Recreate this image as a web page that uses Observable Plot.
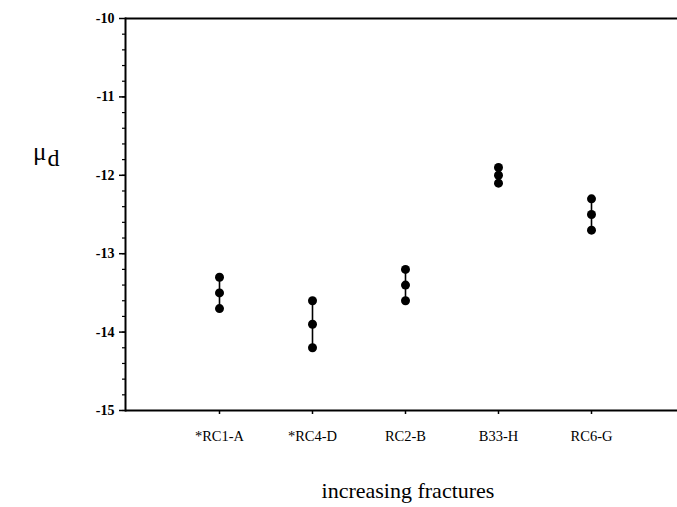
<!DOCTYPE html>
<html>
<head>
<meta charset="utf-8">
<script src="https://cdn.jsdelivr.net/npm/d3@7"></script>
<script src="https://cdn.jsdelivr.net/npm/@observablehq/plot@0.6"></script>
<style>
  body { margin: 0; background: #fff; }
  #chart { width: 677px; height: 507px; }
</style>
</head>
<body>
<div id="chart"></div>
<script>
// Samples, ordered by increasing fractures
const samples = ["*RC1-A", "*RC4-D", "RC2-B", "B33-H", "RC6-G"];
// Three readings per sample: low, middle, high
const lowValues = [-13.7, -14.2, -13.6, -12.1, -12.7];
const midValues = [-13.5, -13.9, -13.4, -12.0, -12.5];
const highValues = [-13.3, -13.6, -13.2, -11.9, -12.3];
// Axis ticks
const yTicks = [-15, -14, -13, -12, -11, -10];
const yMinorTicks = d3.range(-15, -10, 0.2).map(v => +v.toFixed(1));

const rows = samples.map((s, i) => ({sample: s, low: lowValues[i], mid: midValues[i], high: highValues[i]}));
const points = rows.flatMap(r => [
  {sample: r.sample, value: r.low},
  {sample: r.sample, value: r.mid},
  {sample: r.sample, value: r.high}
]);

const serif = "'Liberation Serif', 'DejaVu Serif', serif";

const chart = Plot.plot({
  width: 677,
  height: 507,
  marginTop: 18,
  marginBottom: 97,
  marginLeft: 125,
  marginRight: 0,
  style: {fontFamily: serif, background: "white", color: "black"},
  x: {type: "point", domain: samples, padding: 0.955, align: 0.52, label: null},
  y: {domain: [-15, -10], label: null},
  marks: [
    Plot.axisY({ticks: yMinorTicks, tickSize: 3, tickFormat: () => "", label: null, strokeWidth: 1.2}),
    Plot.axisY({ticks: yTicks, tickSize: 6, tickPadding: 5, fontSize: 14, fontWeight: "bold", tickFormat: d => String(d), label: null, strokeWidth: 1.5}),
    Plot.axisX({tickSize: 4, tickPadding: 16, fontSize: 14.5, label: null, strokeWidth: 1.5}),
    Plot.frame({anchor: "left", strokeWidth: 2}),
    Plot.ruleY([-10, -15], {strokeWidth: 2}),
    Plot.ruleX(rows, {x: "sample", y1: "low", y2: "high", strokeWidth: 1.6}),
    Plot.dot(points, {x: "sample", y: "value", r: 4.5, fill: "black", stroke: null})
  ]
});

const svg = d3.select(chart);

// y-axis title: mu with subscript d
const yLabel = svg.append("text")
  .attr("x", 33).attr("y", 160)
  .attr("text-anchor", "start")
  .attr("font-family", serif).attr("font-size", 25).attr("fill", "black");
yLabel.append("tspan").text("μ");
yLabel.append("tspan").attr("dx", 1).attr("dy", 6).attr("font-size", 24).text("d");

// x-axis title
svg.append("text")
  .attr("x", 408).attr("y", 498)
  .attr("text-anchor", "middle")
  .attr("font-family", serif).attr("font-size", 22).attr("fill", "black")
  .text("increasing fractures");

document.getElementById("chart").appendChild(chart);
</script>
</body>
</html>
